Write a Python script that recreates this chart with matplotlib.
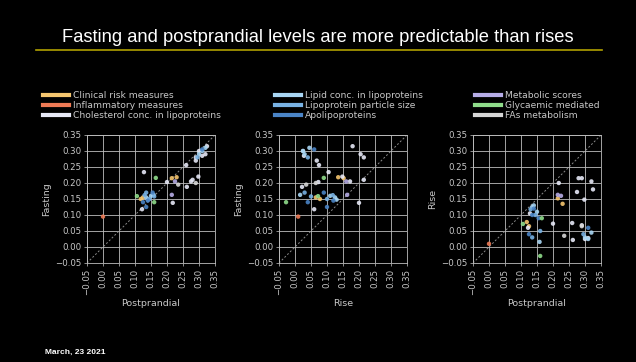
import matplotlib
matplotlib.use("Agg")
import matplotlib.pyplot as plt
from matplotlib.lines import Line2D

# ---------------- data (postprandial, fasting, rise) per category ----------------
title = "Fasting and postprandial levels are more predictable than rises"
date_text = "March, 23 2021"

categories = [
    "Clinical risk measures", "Inflammatory measures", "Cholesterol conc. in lipoproteins",
    "Lipid conc. in lipoproteins", "Lipoprotein particle size", "Apolipoproteins",
    "Metabolic scores", "Glycaemic mediated", "FAs metabolism",
]
colors = ["#f6c66f", "#ee7a55", "#e6e8f6",
          "#a8d6f4", "#78b2e4", "#4a84c6",
          "#b6ace6", "#8fdc8a", "#d6d6d6"]

clin_post = [0.230, 0.215, 0.125, 0.118]
clin_fast = [0.218, 0.215, 0.155, 0.150]
clin_rise = [0.135, 0.152, 0.065, 0.078]

infl_post = [0.000]
infl_fast = [0.095]
infl_rise = [0.010]

chol_post = [0.325, 0.320, 0.290, 0.300, 0.310, 0.290, 0.260, 0.128, 0.280, 0.262, 0.200, 0.122, 0.218, 0.275, 0.298]
chol_fast = [0.315, 0.290, 0.280, 0.300, 0.285, 0.270, 0.256, 0.234, 0.210, 0.188, 0.203, 0.118, 0.138, 0.205, 0.220]
chol_rise = [0.180, 0.205, 0.215, 0.025, 0.028, 0.068, 0.075, 0.105, 0.215, 0.022, 0.073, 0.060, 0.200, 0.172, 0.148]

lipid_post = [0.135, 0.150, 0.140, 0.158, 0.300, 0.310, 0.320]
lipid_fast = [0.155, 0.160, 0.148, 0.163, 0.290, 0.300, 0.310]
lipid_rise = [0.125, 0.110, 0.130, 0.016, 0.030, 0.025, 0.045]

size_post = [0.145, 0.130, 0.160, 0.295, 0.135]
size_fast = [0.150, 0.162, 0.158, 0.280, 0.170]
size_rise = [0.100, 0.118, 0.050, 0.040, 0.030]

apo_post = [0.140, 0.155, 0.125, 0.310, 0.135]
apo_fast = [0.145, 0.170, 0.140, 0.305, 0.125]
apo_rise = [0.120, 0.090, 0.040, 0.060, 0.100]

meta_post = [0.215, 0.225]
meta_fast = [0.163, 0.205]
meta_rise = [0.163, 0.160]

glyc_post = [0.165, 0.106, 0.160]
glyc_fast = [0.216, 0.159, 0.140]
glyc_rise = [0.090, 0.072, -0.028]

fas_post = [0.235, 0.290]
fas_fast = [0.195, 0.200]
fas_rise = [0.035, 0.065]

groups = [
    (clin_post, clin_fast, clin_rise),
    (infl_post, infl_fast, infl_rise),
    (chol_post, chol_fast, chol_rise),
    (lipid_post, lipid_fast, lipid_rise),
    (size_post, size_fast, size_rise),
    (apo_post, apo_fast, apo_rise),
    (meta_post, meta_fast, meta_rise),
    (glyc_post, glyc_fast, glyc_rise),
    (fas_post, fas_fast, fas_rise),
]

ticks = [-0.05, 0.00, 0.05, 0.10, 0.15, 0.20, 0.25, 0.30, 0.35]
tick_labels = ["\u22120.05", "0.00", "0.05", "0.10", "0.15", "0.20", "0.25", "0.30", "0.35"]

# panels: (x index, y index, xlabel, ylabel)
panels = [(0, 1, "Postprandial", "Fasting"),
          (2, 1, "Rise", "Fasting"),
          (0, 2, "Postprandial", "Rise")]

# ---------------- figure ----------------
W, H = 636, 362
fig = plt.figure(figsize=(W / 100, H / 100), dpi=100, facecolor="black")
txt_col = "#c8c8c8"

fig.text(0.5, 1 - 37 / H, title, color="white", fontsize=13.2,
         family=["Liberation Sans", "DejaVu Sans"], ha="center", va="center")
fig.add_artist(Line2D([36 / W, 602 / W], [1 - 50 / H, 1 - 50 / H],
                      color="#b0a000", lw=1.2, transform=fig.transFigure))
fig.text(45 / W, 1 - 352 / H, date_text, color="white", fontsize=6,
         fontweight="bold", family=["Liberation Sans", "DejaVu Sans"],
         ha="left", va="center")

lefts = [87, 279, 473]
size_px = 128
for (xi, yi, xl, yl), lx in zip(panels, lefts):
    ax = fig.add_axes([lx / W, 1 - 263 / H, size_px / W, size_px / H])
    ax.set_facecolor("black")
    ax.set_axisbelow(True)
    ax.grid(True, color="#bdbdbd", lw=0.6)
    ax.plot([-0.05, 0.35], [-0.05, 0.35], ls=(0, (2, 2)), color="#8a8a8a", lw=0.7, zorder=1)
    for g, c in zip(groups, colors):
        ax.scatter(g[xi], g[yi], s=10, color=c, alpha=0.9, edgecolors="none", zorder=3)
    ax.set_xlim(-0.05, 0.35)
    ax.set_ylim(-0.05, 0.35)
    ax.set_xticks(ticks)
    ax.set_yticks(ticks)
    ax.set_xticklabels(tick_labels, rotation=90)
    ax.set_yticklabels(tick_labels)
    ax.tick_params(colors=txt_col, labelsize=6.2, length=2, width=0.5, pad=2)
    for sp in ax.spines.values():
        sp.set_color("#bdbdbd")
        sp.set_linewidth(0.6)
    ax.set_xlabel(xl, color=txt_col, fontsize=6.8, labelpad=3)
    ax.set_ylabel(yl, color=txt_col, fontsize=6.8, labelpad=3)

# ---------------- legends ----------------
leg_x = [43, 275, 475]
for k, lxp in enumerate(leg_x):
    handles = [Line2D([], [], color=colors[i], lw=3) for i in range(3 * k, 3 * k + 3)]
    labels = categories[3 * k:3 * k + 3]
    leg = fig.legend(handles, labels, loc="upper left",
                     bbox_to_anchor=(lxp / W, 1 - 91 / H), bbox_transform=fig.transFigure,
                     frameon=False, fontsize=6.6, handlelength=2.8, handletextpad=0.45,
                     labelspacing=0.12, borderpad=0, borderaxespad=0)
    for t in leg.get_texts():
        t.set_color(txt_col)

fig.savefig("out.png", dpi=100, facecolor="black")
